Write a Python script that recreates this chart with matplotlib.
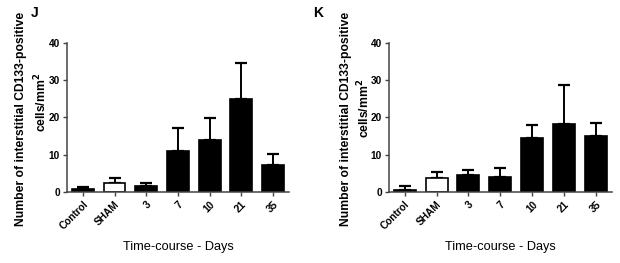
import matplotlib
matplotlib.use("Agg")
import matplotlib.pyplot as plt
import numpy as np

plt.rcParams['font.family'] = ['Liberation Sans', 'DejaVu Sans']

# Data (mean and top of the SD bar)
categories = ['Control', 'SHAM', '3', '7', '10', '21', '35']
j_mean = [0.9, 2.5, 1.6, 11.0, 13.9, 25.0, 7.3]
j_upper = [1.5, 3.9, 2.4, 17.1, 19.8, 34.5, 10.3]
k_mean = [0.7, 3.8, 4.5, 4.1, 14.5, 18.3, 15.0]
k_upper = [1.6, 5.4, 5.9, 6.4, 17.9, 28.7, 18.6]
y_ticks = [0, 10, 20, 30, 40]

fig = plt.figure(figsize=(6.2, 2.63), dpi=100)

# letter, means, upper, axes rect, letter position, ylabel line positions (axes coords)
panels = [
    ('J', j_mean, j_upper, [0.108, 0.269, 0.358, 0.569], (0.056, 0.95),
     (-0.207, 0.493), (-0.117, 0.60)),
    ('K', k_mean, k_upper, [0.627, 0.269, 0.360, 0.569], (0.513, 0.95),
     (-0.193, 0.493), (-0.112, 0.56)),
]

for letter, mean, upper, rect, letter_pos, line1_pos, line2_pos in panels:
    ax = fig.add_axes(rect)
    x = np.arange(len(categories))
    mean = np.array(mean)
    err = np.array(upper) - mean
    colors = ['black'] * len(categories)
    colors[1] = 'white'  # SHAM is open
    ax.errorbar(x, mean, yerr=[np.zeros_like(err), err], fmt='none',
                ecolor='black', elinewidth=1.4, capsize=4.3, capthick=1.6, zorder=1)
    ax.bar(x, mean, width=0.69, color=colors, edgecolor='black', linewidth=1.2, zorder=2)

    ax.set_xlim(-0.5, 6.5)
    ax.set_ylim(0, 40)
    ax.set_yticks(y_ticks)
    ax.set_xticks(x)
    ax.set_xticklabels(categories, rotation=45, ha='right', rotation_mode='anchor',
                       fontsize=7.3, fontweight='bold')
    ax.tick_params(axis='y', labelsize=7.3, length=3, width=1, color='#444444', pad=2)
    ax.tick_params(axis='x', length=3, width=1, color='#444444', pad=2)
    for lbl in ax.get_yticklabels():
        lbl.set_fontweight('bold')

    for s in ['top', 'right']:
        ax.spines[s].set_visible(False)
    for s in ['left', 'bottom']:
        ax.spines[s].set_color('#444444')
        ax.spines[s].set_linewidth(1.1)

    # y label as two separately placed lines
    ax.text(line1_pos[0], line1_pos[1], 'Number of interstitial CD133-positive',
            transform=ax.transAxes, rotation=90, ha='center', va='center',
            fontsize=8.7, fontweight='bold')
    ax.text(line2_pos[0], line2_pos[1], 'cells/mm$^{\\mathbf{2}}$',
            transform=ax.transAxes, rotation=90, ha='center', va='center',
            fontsize=8.7, fontweight='bold')
    ax.set_xlabel('Time-course - Days', fontsize=9.2, labelpad=7)

    fig.text(letter_pos[0], letter_pos[1], letter, fontsize=10, fontweight='bold',
             ha='center', va='center')

fig.savefig('out.png', dpi=100)
